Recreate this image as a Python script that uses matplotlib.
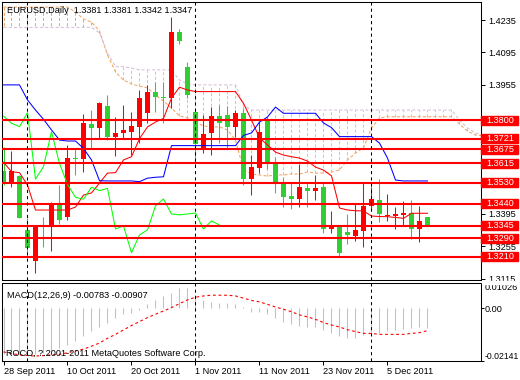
import numpy as np
import matplotlib
matplotlib.use('Agg')
import matplotlib.pyplot as plt
import matplotlib.transforms as mtransforms
from matplotlib.patches import Rectangle

plt.rcParams['font.family'] = ['Liberation Sans', 'DejaVu Sans']
plt.rcParams['font.size'] = 6.6

# EURUSD daily candles, 28 Sep 2011 .. 12 Dec 2011
opens = [1.3581, 1.3530, 1.3559, 1.3326, 1.3193, 1.3345, 1.3343, 1.3434, 1.3381, 1.3634,
         1.3633, 1.3785, 1.3769, 1.3863, 1.3730, 1.3747, 1.3751, 1.3773, 1.3834, 1.3925,
         1.3900, 1.3899, 1.4184, 1.4030, 1.3835, 1.3675, 1.3744, 1.3819, 1.3824, 1.3773,
         1.3831, 1.3546, 1.3595, 1.3805, 1.3619, 1.3530, 1.3473, 1.3460, 1.3506, 1.3496,
         1.3513, 1.3330, 1.3343, 1.3316, 1.3300, 1.3323, 1.3431, 1.3455, 1.3388, 1.3388,
         1.3391, 1.3398, 1.3330, 1.3381]
highs = [1.3686, 1.3668, 1.3562, 1.3376, 1.3345, 1.3381, 1.3447, 1.3520, 1.3694, 1.3679,
         1.3828, 1.3845, 1.3880, 1.3910, 1.3814, 1.3867, 1.3838, 1.3932, 1.3954, 1.3968,
         1.3968, 1.4247, 1.4195, 1.4054, 1.3853, 1.3824, 1.3860, 1.3867, 1.3863, 1.3845,
         1.3853, 1.3650, 1.3795, 1.3816, 1.3643, 1.3554, 1.3535, 1.3610, 1.3535, 1.3564,
         1.3535, 1.3409, 1.3345, 1.3395, 1.3438, 1.3528, 1.3513, 1.3545, 1.3481, 1.3424,
         1.3452, 1.3456, 1.3430, 1.3381]
lows = [1.3520, 1.3513, 1.3377, 1.3232, 1.3141, 1.3253, 1.3236, 1.3352, 1.3369, 1.3564,
        1.3578, 1.3675, 1.3723, 1.3715, 1.3646, 1.3723, 1.3650, 1.3701, 1.3789, 1.3838,
        1.3790, 1.3854, 1.4130, 1.3899, 1.3600, 1.3660, 1.3650, 1.3704, 1.3675, 1.3730,
        1.3520, 1.3477, 1.3571, 1.3588, 1.3487, 1.3427, 1.3415, 1.3424, 1.3424, 1.3455,
        1.3314, 1.3311, 1.3207, 1.3265, 1.3279, 1.3253, 1.3415, 1.3359, 1.3366, 1.3329,
        1.3347, 1.3285, 1.3274, 1.3342]
closes = [1.3528, 1.3581, 1.3379, 1.3249, 1.3343, 1.3341, 1.3441, 1.3369, 1.3636, 1.3632,
          1.3790, 1.3767, 1.3877, 1.3730, 1.3747, 1.3759, 1.3776, 1.3896, 1.3925, 1.3900,
          1.3898, 1.4184, 1.4145, 1.3910, 1.3698, 1.3741, 1.3819, 1.3788, 1.3773, 1.3834,
          1.3546, 1.3600, 1.3751, 1.3614, 1.3523, 1.3467, 1.3459, 1.3511, 1.3496, 1.3506,
          1.3330, 1.3343, 1.3227, 1.3304, 1.3326, 1.3430, 1.3460, 1.3395, 1.3391, 1.3395,
          1.3399, 1.3330, 1.3365, 1.3347]

# Ichimoku lines
tenkan = [1.3619, 1.3578, 1.3574, 1.3520, 1.3412, 1.3412, 1.3412, 1.3412, 1.3412, 1.3425,
          1.3477, 1.3486, 1.3529, 1.3572, 1.3574, 1.3629, 1.3643, 1.3721, 1.3772, 1.3793,
          1.3809, 1.3897, 1.3944, 1.3932, 1.3925, 1.3925, 1.3925, 1.3925, 1.3925, 1.3925,
          1.3874, 1.3802, 1.3724, 1.3694, 1.3663, 1.3650, 1.3643, 1.3637, 1.3624, 1.3598,
          1.3585, 1.3560, 1.3421, 1.3412, 1.3409, 1.3408, 1.3386, 1.3384, 1.3383, 1.3380,
          1.3376, 1.3398, 1.3398, 1.3398]
kijun = [1.3954, 1.3954, 1.3954, 1.3889, 1.3845, 1.3805, 1.3759, 1.3715, 1.3711, 1.3711,
         1.3679, 1.3629, 1.3539, 1.3538, 1.3538, 1.3538, 1.3538, 1.3535, 1.3550, 1.3554,
         1.3556, 1.3691, 1.3691, 1.3691, 1.3691, 1.3691, 1.3691, 1.3691, 1.3691, 1.3691,
         1.3735, 1.3746, 1.3793, 1.3815, 1.3858, 1.3831, 1.3831, 1.3831, 1.3831, 1.3831,
         1.3789, 1.3769, 1.3730, 1.3730, 1.3730, 1.3730, 1.3730, 1.3702, 1.3637, 1.3542,
         1.3538, 1.3538, 1.3538, 1.3538]
span_a = [1.4291, 1.4291, 1.4291, 1.4291, 1.4291, 1.4291, 1.4291, 1.4291, 1.4291, 1.4270,
          1.4239, 1.4226, 1.4187, 1.4083, 1.4010, 1.3975, 1.3958, 1.3949, 1.3941, 1.3910,
          1.3884, 1.3854, 1.3819, 1.3811, 1.3793, 1.3776, 1.3772, 1.3772, 1.3759, 1.3715,
          1.3586, 1.3568, 1.3564, 1.3559, 1.3564, 1.3564, 1.3568, 1.3568, 1.3577, 1.3572,
          1.3572, 1.3577, 1.3586, 1.3629, 1.3659, 1.3681, 1.3767, 1.3811, 1.3816, 1.3816,
          1.3816, 1.3816, 1.3816, 1.3816, 1.3816, 1.3816, 1.3816, 1.3785, 1.3754, 1.3737,
          1.3733]
span_b = [1.4203, 1.4203, 1.4203, 1.4203, 1.4203, 1.4203, 1.4203, 1.4203, 1.4203, 1.4203,
          1.4203, 1.4203, 1.4179, 1.4092, 1.4033, 1.4033, 1.4027, 1.4019, 1.4019, 1.4019,
          1.4019, 1.4019, 1.3975, 1.3958, 1.3954, 1.3954, 1.3954, 1.3954, 1.3954, 1.3954,
          1.3867, 1.3845, 1.3845, 1.3845, 1.3845, 1.3845, 1.3845, 1.3845, 1.3845, 1.3845,
          1.3845, 1.3845, 1.3845, 1.3845, 1.3845, 1.3845, 1.3845, 1.3845, 1.3845, 1.3845,
          1.3845, 1.3845, 1.3845, 1.3845, 1.3845, 1.3845, 1.3845, 1.3802, 1.3767, 1.3746,
          1.3737]

# MACD(12,26,9)
macd = [-0.0184, -0.0184, -0.0184, -0.0181, -0.0184, -0.0180, -0.0173, -0.0160, -0.0149, -0.0133,
        -0.0112, -0.0092, -0.0076, -0.0058, -0.0041, -0.0024, -0.0018, -0.0008, 0.0019, 0.0032,
        0.0050, 0.0064, 0.0081, 0.0081, 0.0055, 0.0032, 0.0027, 0.0022, 0.0020, 0.0017,
        0.0004, -0.0014, -0.0014, -0.0022, -0.0038, -0.0054, -0.0065, -0.0072, -0.0076, -0.0076,
        -0.0089, -0.0099, -0.0114, -0.0119, -0.0119, -0.0108, -0.0106, -0.0099, -0.0092, -0.0089,
        -0.0085, -0.0081, -0.0078, -0.00783]
signal = [-0.0177, -0.0184, -0.0189, -0.0192, -0.0194, -0.0192, -0.0189, -0.0187, -0.0181, -0.0173,
          -0.0166, -0.0154, -0.0141, -0.0122, -0.0106, -0.0088, -0.0070, -0.0054, -0.0038, -0.0024,
          -0.0011, 0.0003, 0.0019, 0.0034, 0.0045, 0.0050, 0.0053, 0.0053, 0.0053, 0.0050,
          0.0041, 0.0032, 0.0026, 0.0016, 0.0005, -0.0004, -0.0014, -0.0027, -0.0035, -0.0045,
          -0.0058, -0.0068, -0.0076, -0.0087, -0.0095, -0.0102, -0.0102, -0.0106, -0.0106, -0.0106,
          -0.0106, -0.0102, -0.0099, -0.00907]

levels = [1.3800, 1.3721, 1.3675, 1.3615, 1.3530, 1.3440, 1.3345, 1.3290, 1.3210]
price_ticks = [1.4235, 1.4095, 1.3955, 1.3395, 1.3255, 1.3115]
month_starts = [3, 24, 46]
date_ticks = [0, 8, 16, 24, 32, 40, 48]
date_labels = ['28 Sep 2011', '10 Oct 2011', '20 Oct 2011', '1 Nov 2011',
               '11 Nov 2011', '23 Nov 2011', '5 Dec 2011']

W, H = 520, 380
fig = plt.figure(figsize=(W / 100, H / 100), dpi=100)


def axes_px(l, t, r, b):
    return fig.add_axes([l / W, 1 - b / H, (r - l) / W, (b - t) / H])


ax = axes_px(2, 2, 481, 280)
ax2 = axes_px(2, 283, 481, 361)

o = np.array(opens)
hi = np.array(highs)
lo = np.array(lows)
c = np.array(closes)
x = np.arange(len(o))
col = np.where(c > o, '#ff0000', '#32cd32')

# cloud (Senkou spans) as dotted hatch
sa = np.array(span_a)
sb = np.array(span_b)
xs = np.arange(len(sa))
ax.vlines(xs, sa, sb, colors=np.where(sa > sb, '#f4a460', '#d8bfd8'),
          linestyles=(0, (3, 2)), lw=0.75, zorder=1)
ax.plot(xs, sa, color='#f4a460', ls=(0, (3, 2)), lw=0.75, zorder=1)
ax.plot(xs, sb, color='#d8bfd8', ls=(0, (3, 2)), lw=0.75, zorder=1)

# candles
ax.vlines(x, lo, hi, colors=col, lw=0.75, zorder=2)
ax.bar(x, np.maximum(np.abs(c - o), 0.0004), bottom=np.minimum(o, c), width=0.625,
       color=col, linewidth=0, zorder=2)

# tenkan, kijun, chikou (close shifted back 26 bars)
ax.plot(x, tenkan, color='red', lw=0.75, zorder=3)
ax.plot(x, kijun, color='blue', lw=0.75, zorder=3)
ax.plot(x[:len(c) - 26], c[26:], color='#00ff00', lw=0.75, zorder=3)

for lv in levels:
    ax.axhline(lv, color='red', lw=1.5, zorder=4)

for a in (ax, ax2):
    for s in month_starts:
        a.axvline(s, color='black', ls=(0, (3, 3)), lw=0.75, zorder=5)
    a.set_xlim(-0.1875, 59.6875)
    for sp in a.spines.values():
        sp.set_linewidth(0.75)
    a.yaxis.tick_right()

ax.tick_params(axis='y', length=3, width=0.7, pad=2, labelsize=6.6)
ax2.tick_params(axis='y', length=2, width=0.7, pad=0.5, labelsize=6.6)

ax.set_ylim(1.3109, 1.4313)
ax.set_xticks([])
ax.set_yticks(price_ticks)
ax.set_yticklabels([f'{v:.4f}' for v in price_ticks])

# level labels on the price scale
trans = mtransforms.blended_transform_factory(ax.transAxes, ax.transData)
bw = 37 / 479
bh = 9 / 2309
for lv in levels:
    ax.add_patch(Rectangle((1.0, lv - bh / 2), bw, bh, transform=trans,
                           color='red', clip_on=False, zorder=6))
    ax.text(1.0 + 5 / 479, lv, f'{lv:.4f}', transform=trans, color='white',
            va='center', ha='left', fontsize=6.6, zorder=7, clip_on=False)

fig.patches.append(Rectangle((482 / W, 1 - 284 / H), 38 / W, 3.5 / H,
                             transform=fig.transFigure, color='white', zorder=10))

# MACD panel
ax2.vlines(x, 0, macd, colors='#c0c0c0', lw=0.75, zorder=2)
ax2.plot(x, signal, color='red', ls=(0, (2.5, 2.5)), lw=0.8, zorder=3)
ax2.set_ylim(-0.02141, 0.01026)
ax2.set_yticks([0.01026, 0.0, -0.02141])
ax2.set_yticklabels(['0.01026', '0.00', '-0.02141'])
tl = ax2.get_yticklabels()
tl[0].set_va('top')
tl[2].set_va('bottom')
tl[2].set_fontsize(6.2)
ax2.set_xticks(date_ticks)
ax2.set_xticklabels(date_labels, ha='left')
ax2.tick_params(axis='x', length=3, width=0.7, pad=1, labelsize=6.6)

fig.text(7 / W, 1 - 10.5 / H, 'EURUSD,Daily  1.3381 1.3381 1.3342 1.3347',
         va='center', ha='left', fontsize=6.6)
fig.text(7 / W, 1 - 295 / H, 'MACD(12,26,9) -0.00783 -0.00907',
         va='center', ha='left', fontsize=6.6)
fig.text(6 / W, 1 - 354 / H, 'ROCO, ?.2001-2011 MetaQuotes Software Corp.',
         va='center', ha='left', fontsize=6.6)

fig.savefig('out.png', dpi=100)
